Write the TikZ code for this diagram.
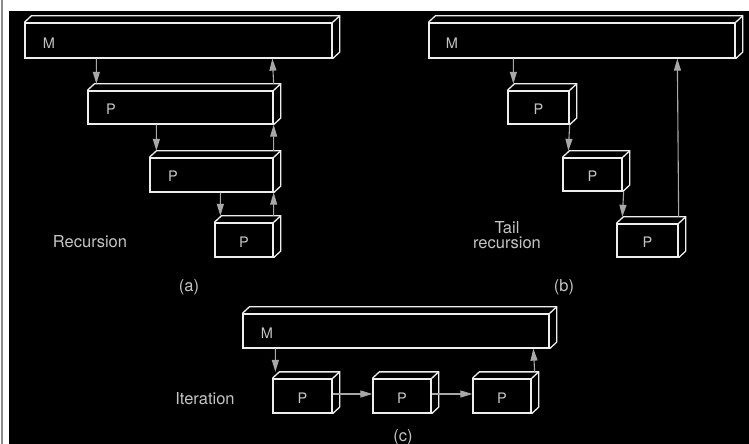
\documentclass[tikz,border=0pt]{standalone}
\usepackage{fontspec}
\setmainfont{TeX Gyre Heros}
\usetikzlibrary{arrows.meta,calc}
\definecolor{edgecol}{HTML}{EEEEEE}
\definecolor{arrowgray}{HTML}{A8A8A8}
\definecolor{txtcol}{HTML}{C4C4C4}
\definecolor{framegray}{HTML}{8A8A8A}
\tikzset{
  cube/.style={draw=edgecol, line width=1.3bp, rectangle, inner sep=0pt},
  boxline/.style={draw=edgecol, line width=1.3bp, line join=miter},
  arr/.style={draw=arrowgray, line width=1.1bp, -{Triangle[length=12bp,width=7bp]}, arrowgray},
  lbl/.style={text=txtcol, font=\fontsize{14.5bp}{16bp}\selectfont, inner sep=0pt},
  captxt/.style={text=txtcol, font=\fontsize{16.5bp}{15bp}\selectfont, inner sep=0pt, align=center}
}
\newcommand\cubefaces[1]{%
  \draw[boxline] (#1.north west) -- ++(7,-6.5) -- ($(#1.north east)+(7,-6.5)$) -- ($(#1.south east)+(7,-6.5)$) -- (#1.south east);
  \draw[boxline] (#1.north east) -- ++(7,-6.5);}
\begin{document}
\begin{tikzpicture}[x=1bp,y=-1bp]
\useasboundingbox (0,0) rectangle (749,444);
\fill[white] (0,0) rectangle (749,444);
\fill[framegray] (1,0) rectangle (3,444);
\fill[black] (9,11) rectangle (749,444);

% (a) recursion
\node[cube, minimum width=307bp, minimum height=35bp] (ma) at (178.5,40.5) {};
\node[cube, minimum width=185bp, minimum height=33bp] (pa1) at (180.5,107.5) {};
\node[cube, minimum width=123bp, minimum height=34bp] (pa2) at (211.5,175) {};
\node[cube, minimum width=58bp, minimum height=34bp] (pa3) at (244,240) {};
\foreach \n in {ma,pa1,pa2,pa3} {\cubefaces{\n}}
\node[lbl] (tma) at (49,43) {M};
\node[lbl] (tpa1) at (111,109) {P};
\node[lbl] (tpa2) at (173,176) {P};
\node[lbl] (tpa3) at (244,242) {P};
\draw[arr] ($(ma.south west)+(72,0)$) -- ($(pa1.north west)+(9,-6.5)$);
\draw[arr] ($(pa1.south west)+(69,0)$) -- ($(pa2.north west)+(7,-6.5)$);
\draw[arr] ($(pa2.south west)+(71,0)$) -- ($(pa3.north west)+(6,-6.5)$);
\draw[arr] ($(pa3.north east)+(0,-6.5)$) -- (pa2.south east);
\draw[arr] ($(pa2.north east)+(0,-6.5)$) -- (pa1.south east);
\draw[arr] ($(pa1.north east)+(0,-6.5)$) -- ($(ma.south west)+(248,0)$);
\node[captxt] (reca) at (90,242) {Recursion};
\node[captxt] (capa) at (189,287) {(a)};

% (b) tail recursion
\node[cube, minimum width=306bp, minimum height=35bp] (mb) at (582,40.5) {};
\node[cube, minimum width=61bp, minimum height=33bp] (pb1) at (538.5,107.5) {};
\node[cube, minimum width=59bp, minimum height=33bp] (pb2) at (592.5,174.5) {};
\node[cube, minimum width=61bp, minimum height=33bp] (pb3) at (647.5,240.5) {};
\foreach \n in {mb,pb1,pb2,pb3} {\cubefaces{\n}}
\node[lbl] (tmb) at (452,43) {M};
\node[lbl] (tpb1) at (538.5,109) {P};
\node[lbl] (tpb2) at (592.5,176) {P};
\node[lbl] (tpb3) at (647.5,242) {P};
\draw[arr] ($(mb.south west)+(85,0)$) -- ($(pb1.north west)+(6,-6.5)$);
\draw[arr] (pb1.south east) -- ($(pb2.north west)+(6,-6.5)$);
\draw[arr] ($(pb2.south east)+(1,0)$) -- ($(pb3.north west)+(6,-6.5)$);
\draw[arr] ($(pb3.north east)+(0,-6.5)$) -- ($(mb.south west)+(249,0)$);
\node[captxt] (recb) at (507,235) {Tail\\recursion};
\node[captxt] (capb) at (564,287) {(b)};

% (c) iteration
\node[cube, minimum width=306bp, minimum height=34bp] (mc) at (396,331) {};
\node[cube, minimum width=59bp, minimum height=34bp] (pc1) at (302.5,396) {};
\node[cube, minimum width=58bp, minimum height=34bp] (pc2) at (402,396) {};
\node[cube, minimum width=58bp, minimum height=34bp] (pc3) at (502,396) {};
\foreach \n in {mc,pc1,pc2,pc3} {\cubefaces{\n}}
\node[lbl] (tmc) at (267,333) {M};
\node[lbl] (tpc1) at (302.5,398) {P};
\node[lbl] (tpc2) at (402,398) {P};
\node[lbl] (tpc3) at (502,398) {P};
\draw[arr] ($(mc.south west)+(33,0)$) -- ($(pc1.north west)+(3,-6.5)$);
\draw[arr] ($(pc1.east)+(0,-2)$) -- ($(pc2.west)+(0,-2)$);
\draw[arr] ($(pc2.east)+(0,-2)$) -- ($(pc3.west)+(0,-2)$);
\draw[arr] ($(pc3.north east)+(3,-6.5)$) -- ($(mc.south west)+(291,0)$);
\node[captxt] (iterc) at (205,399) {Iteration};
\node[captxt] (capc) at (403,437) {(c)};
\end{tikzpicture}
\end{document}
